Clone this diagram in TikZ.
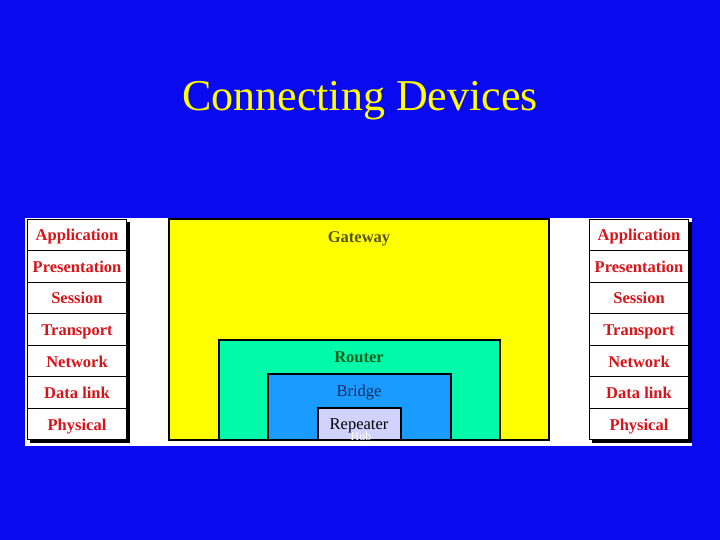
\documentclass[tikz,border=0pt]{standalone}
\usepackage{fontspec}
\setmainfont{Liberation Serif}
\definecolor{bgblue}{RGB}{10,10,240}
\definecolor{layred}{RGB}{215,20,25}
\definecolor{gwfill}{RGB}{255,255,0}
\definecolor{gwtext}{RGB}{85,85,10}
\definecolor{rtfill}{RGB}{0,250,170}
\definecolor{rttext}{RGB}{10,100,30}
\definecolor{brfill}{RGB}{25,155,255}
\definecolor{brtext}{RGB}{20,40,95}
\definecolor{rpfill}{RGB}{210,210,255}
\tikzset{
  layer/.style={draw=black, line width=1pt, fill=white, minimum width=99pt, minimum height=31.5pt,
    inner sep=0pt, text height=12pt, text depth=0pt, text=layred, font=\fontsize{16.5}{17}\selectfont\bfseries},
  devbox/.style={draw=black, line width=1.2pt},
  devlabel/.style={font=\fontsize{16.5}{17}\selectfont, inner sep=0pt, text height=12pt, text depth=0pt}
}
\begin{document}
\begin{tikzpicture}[x=1pt,y=-1pt]
\fill[bgblue] (0,0) rectangle (720,540);
\useasboundingbox (0,0) rectangle (720,540);
\node[text=gwfill, font=\fontsize{44}{48}\selectfont, inner sep=0pt, anchor=base] (title) at (360,111) {Connecting Devices};
% white panel
\fill[white] (25,218) rectangle (692,446);
% device boxes
\draw[devbox, fill=gwfill] (169,219) rectangle (549,440);
\draw[devbox, fill=rtfill] (219,340) rectangle (500,440);
\draw[devbox, fill=brfill] (268,374) rectangle (451,440);
\draw[devbox, fill=rpfill] (318,408) rectangle (401,440);
\node[devlabel, text=gwtext, font=\fontsize{16.5}{17}\selectfont\bfseries] (gw) at (359,237) {Gateway};
\node[devlabel, text=rttext, font=\fontsize{16.5}{17}\selectfont\bfseries] (rt) at (359,356) {Router};
\node[devlabel, text=brtext] (br) at (359,390) {Bridge};
\node[devlabel, text=black] (rp) at (359,423) {Repeater};
\node[text=white, font=\fontsize{12}{13}\selectfont, inner sep=0pt] (hub) at (361,436) {Hub};
% stack shadows
\fill[black] (30,222) rectangle (130,443);
\fill[black] (592,222) rectangle (692,443);
% stacks
\foreach \n [count=\i] in {Application,Presentation,Session,Transport,Network,Data link,Physical}{
  \node[layer] (L\i) at (77, 219+31.57*\i-15.78) {\n};
  \node[layer] (R\i) at (639, 219+31.57*\i-15.78) {\n};
}
\end{tikzpicture}
\end{document}
